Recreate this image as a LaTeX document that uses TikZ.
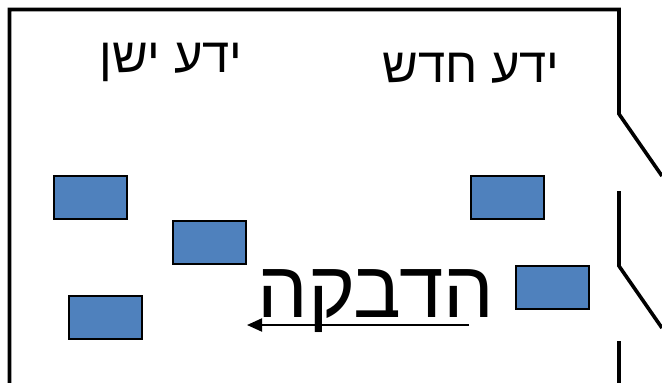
\documentclass[tikz,border=0pt]{standalone}
\usepackage{fontspec}
\usepackage{tikz}
\usetikzlibrary{calc}
\usetikzlibrary{arrows.meta}
\TeXXeTstate=1
\newfontfamily\hebfont[Script=Hebrew]{Liberation Sans}
\definecolor{zzttbb}{rgb}{0.31,0.506,0.741}
\definecolor{qqqqqq}{rgb}{0.,0.,0.}
\tikzstyle{every node}=[font=\hebfont]
\tikzstyle{blok}=[draw=qqqqqq,fill=zzttbb,line width=2pt,minimum width=73pt,minimum height=43pt,inner sep=0pt]
\tikzstyle{wand}=[line width=3.6pt,color=qqqqqq]

\begin{document}
\begin{tikzpicture}[line join=miter,>={Triangle[length=15pt,width=13pt]},x=1pt,y=-1pt]
                    \useasboundingbox (0,0) rectangle (662,383);
                    % frame with the two openings on the right
                    \draw [wand] (9.5,383) -- (9.5,9.5) -- (619,9.5) -- (619,114) -- (662,176);
                    \draw [wand] (619,191) -- (619,266) -- (662,328);
                    \draw [wand] (619,341) -- (619,383);

                    \node [blok] (oud1) at (90.5,197.5) {};
                    \node [blok] (oud2) at (209,242.5) {};
                    \node [blok] (oud3) at (105,317.5) {};
                    \node [blok] (nieuw1) at (507.5,197.5) {};
                    \node [blok] (nieuw2) at (552,287.5) {};

                    \node [anchor=base,font=\hebfont\fontsize{49}{49}\selectfont] (oud) at (171,72) {\beginR ידע ישן\endR};
                    \node [anchor=base,font=\hebfont\fontsize{49}{49}\selectfont] (nieuw) at (471,82) {\beginR ידע חדש\endR};
                    \node [anchor=base,font=\hebfont\fontsize{80}{80}\selectfont] (plak) at (376,317) {\beginR הדבקה\endR};

                    \coordinate (pijlA) at (469,325);
                    \coordinate (pijlB) at (247,325);
                    \draw [->,line width=2pt,color=qqqqqq] (pijlA) -- (pijlB);
                    \end{tikzpicture}
\end{document}
